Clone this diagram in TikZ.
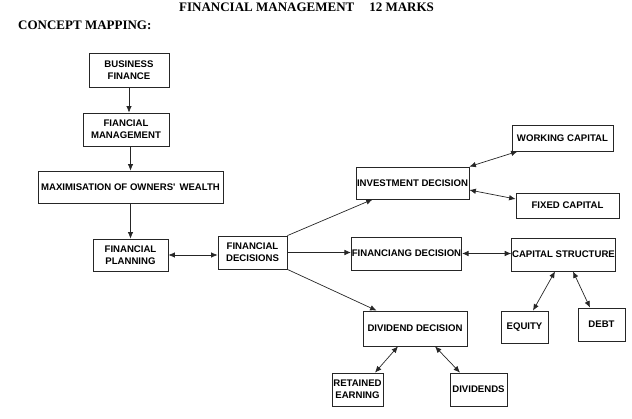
\documentclass[tikz,border=0pt]{standalone}
\usepackage{fontspec}
\setmainfont{Liberation Serif}
\newfontfamily\boxfont{Liberation Sans}
\usetikzlibrary{positioning, arrows.meta, calc}

\begin{document}
\begin{tikzpicture}[
    x=1pt, y=-1pt,
    cbox/.style={
        draw=black!85, line width=0.8pt, inner sep=0.5pt, align=center,
        font=\boxfont\bfseries\fontsize{9.6}{12}\selectfont, text=black
    },
    hdr/.style={font=\bfseries\fontsize{13}{15}\selectfont, anchor=base west, inner sep=0pt},
    arr/.style={-{Latex[length=6.5pt, width=5.5pt]}, line width=0.7pt, black!85},
    darr/.style={{Latex[length=6.5pt, width=5.5pt]}-{Latex[length=6.5pt, width=5.5pt]}, line width=0.7pt, black!85},
]

\useasboundingbox (0,0) rectangle (632,419);

% ====== HEADER ======
\node[hdr] (title) at (179, 12) {FINANCIAL MANAGEMENT\hspace{15pt}12 MARKS};
\node[hdr] (cmap) at (18, 30) {CONCEPT MAPPING:};

% ====== LEFT CHAIN ======
\node[cbox, minimum width=80pt, minimum height=34pt] (bf) at (129, 70) {BUSINESS\\FINANCE};
\node[cbox, minimum width=86pt, minimum height=33pt] (fm) at (126, 129.5) {FIANCIAL\\MANAGEMENT};
\node[cbox, minimum width=185pt, minimum height=32pt] (mx) at (130.5, 187) {MAXIMISATION OF OWNERS'\hspace{4pt}WEALTH};
\node[cbox, minimum width=75pt, minimum height=32pt] (fp) at (130.5, 255) {FINANCIAL\\PLANNING};
\node[cbox, minimum width=69pt, minimum height=33pt] (fd) at (252.5, 252.5) {FINANCIAL\\DECISIONS};

\draw[arr] (bf.south) -- (bf.south |- fm.north);
\draw[arr] (fm.south -| mx) -- (mx.north);
\draw[arr] (mx.south) -- (fp.north);
\draw[darr] (fp.east) -- (fp.east -| fd.west);

% ====== DECISIONS ======
\node[cbox, minimum width=113pt, minimum height=32pt] (id) at (412.5, 183) {INVESTMENT DECISION};
\node[cbox, minimum width=109pt, minimum height=33pt] (fin) at (406.5, 253.5) {FINANCIANG DECISION};
\node[cbox, minimum width=104pt, minimum height=35pt] (dd) at (415, 328.5) {DIVIDEND DECISION};

\draw[arr] (fd.north east) -- ([xshift=17pt]id.south west);
\draw[arr] (fd.east) -- (fd.east -| fin.west);
\draw[arr] (fd.south east) -- ([xshift=14pt]dd.north west);

% ====== INVESTMENT ======
\node[cbox, minimum width=101pt, minimum height=26pt] (wc) at (562.5, 138) {WORKING CAPITAL};
\node[cbox, minimum width=103pt, minimum height=25pt] (fc) at (567.5, 205.5) {FIXED CAPITAL};

\draw[darr] (id.north east) -- ([xshift=6pt]wc.south west);
\draw[darr] ([yshift=-7pt]id.east) -- ([yshift=6.5pt]fc.west);

% ====== FINANCING ======
\node[cbox, minimum width=103pt, minimum height=33pt] (cs) at (563.5, 254.5) {CAPITAL STRUCTURE};
\node[cbox, minimum width=47pt, minimum height=32pt] (eq) at (524.5, 327) {EQUITY};
\node[cbox, minimum width=47pt, minimum height=33pt] (db) at (601.5, 324.5) {DEBT};

\draw[darr] (fin.east) -- (fin.east -| cs.west);
\draw[darr] ([xshift=-8.5pt]cs.south) -- ([xshift=8.5pt]eq.north);
\draw[darr] ([xshift=9.5pt]cs.south) -- ([xshift=-11.5pt]db.north);

% ====== DIVIDEND ======
\node[cbox, minimum width=51pt, minimum height=33pt] (re) at (357.5, 389.5) {RETAINED\\EARNING};
\node[cbox, minimum width=57pt, minimum height=33pt] (dv) at (478.5, 389.5) {DIVIDENDS};

\draw[darr] ([xshift=-17pt]dd.south) -- ([xshift=17.5pt]re.north);
\draw[darr] ([xshift=20pt]dd.south) -- ([xshift=-18.5pt]dv.north);

\end{tikzpicture}
\end{document}
